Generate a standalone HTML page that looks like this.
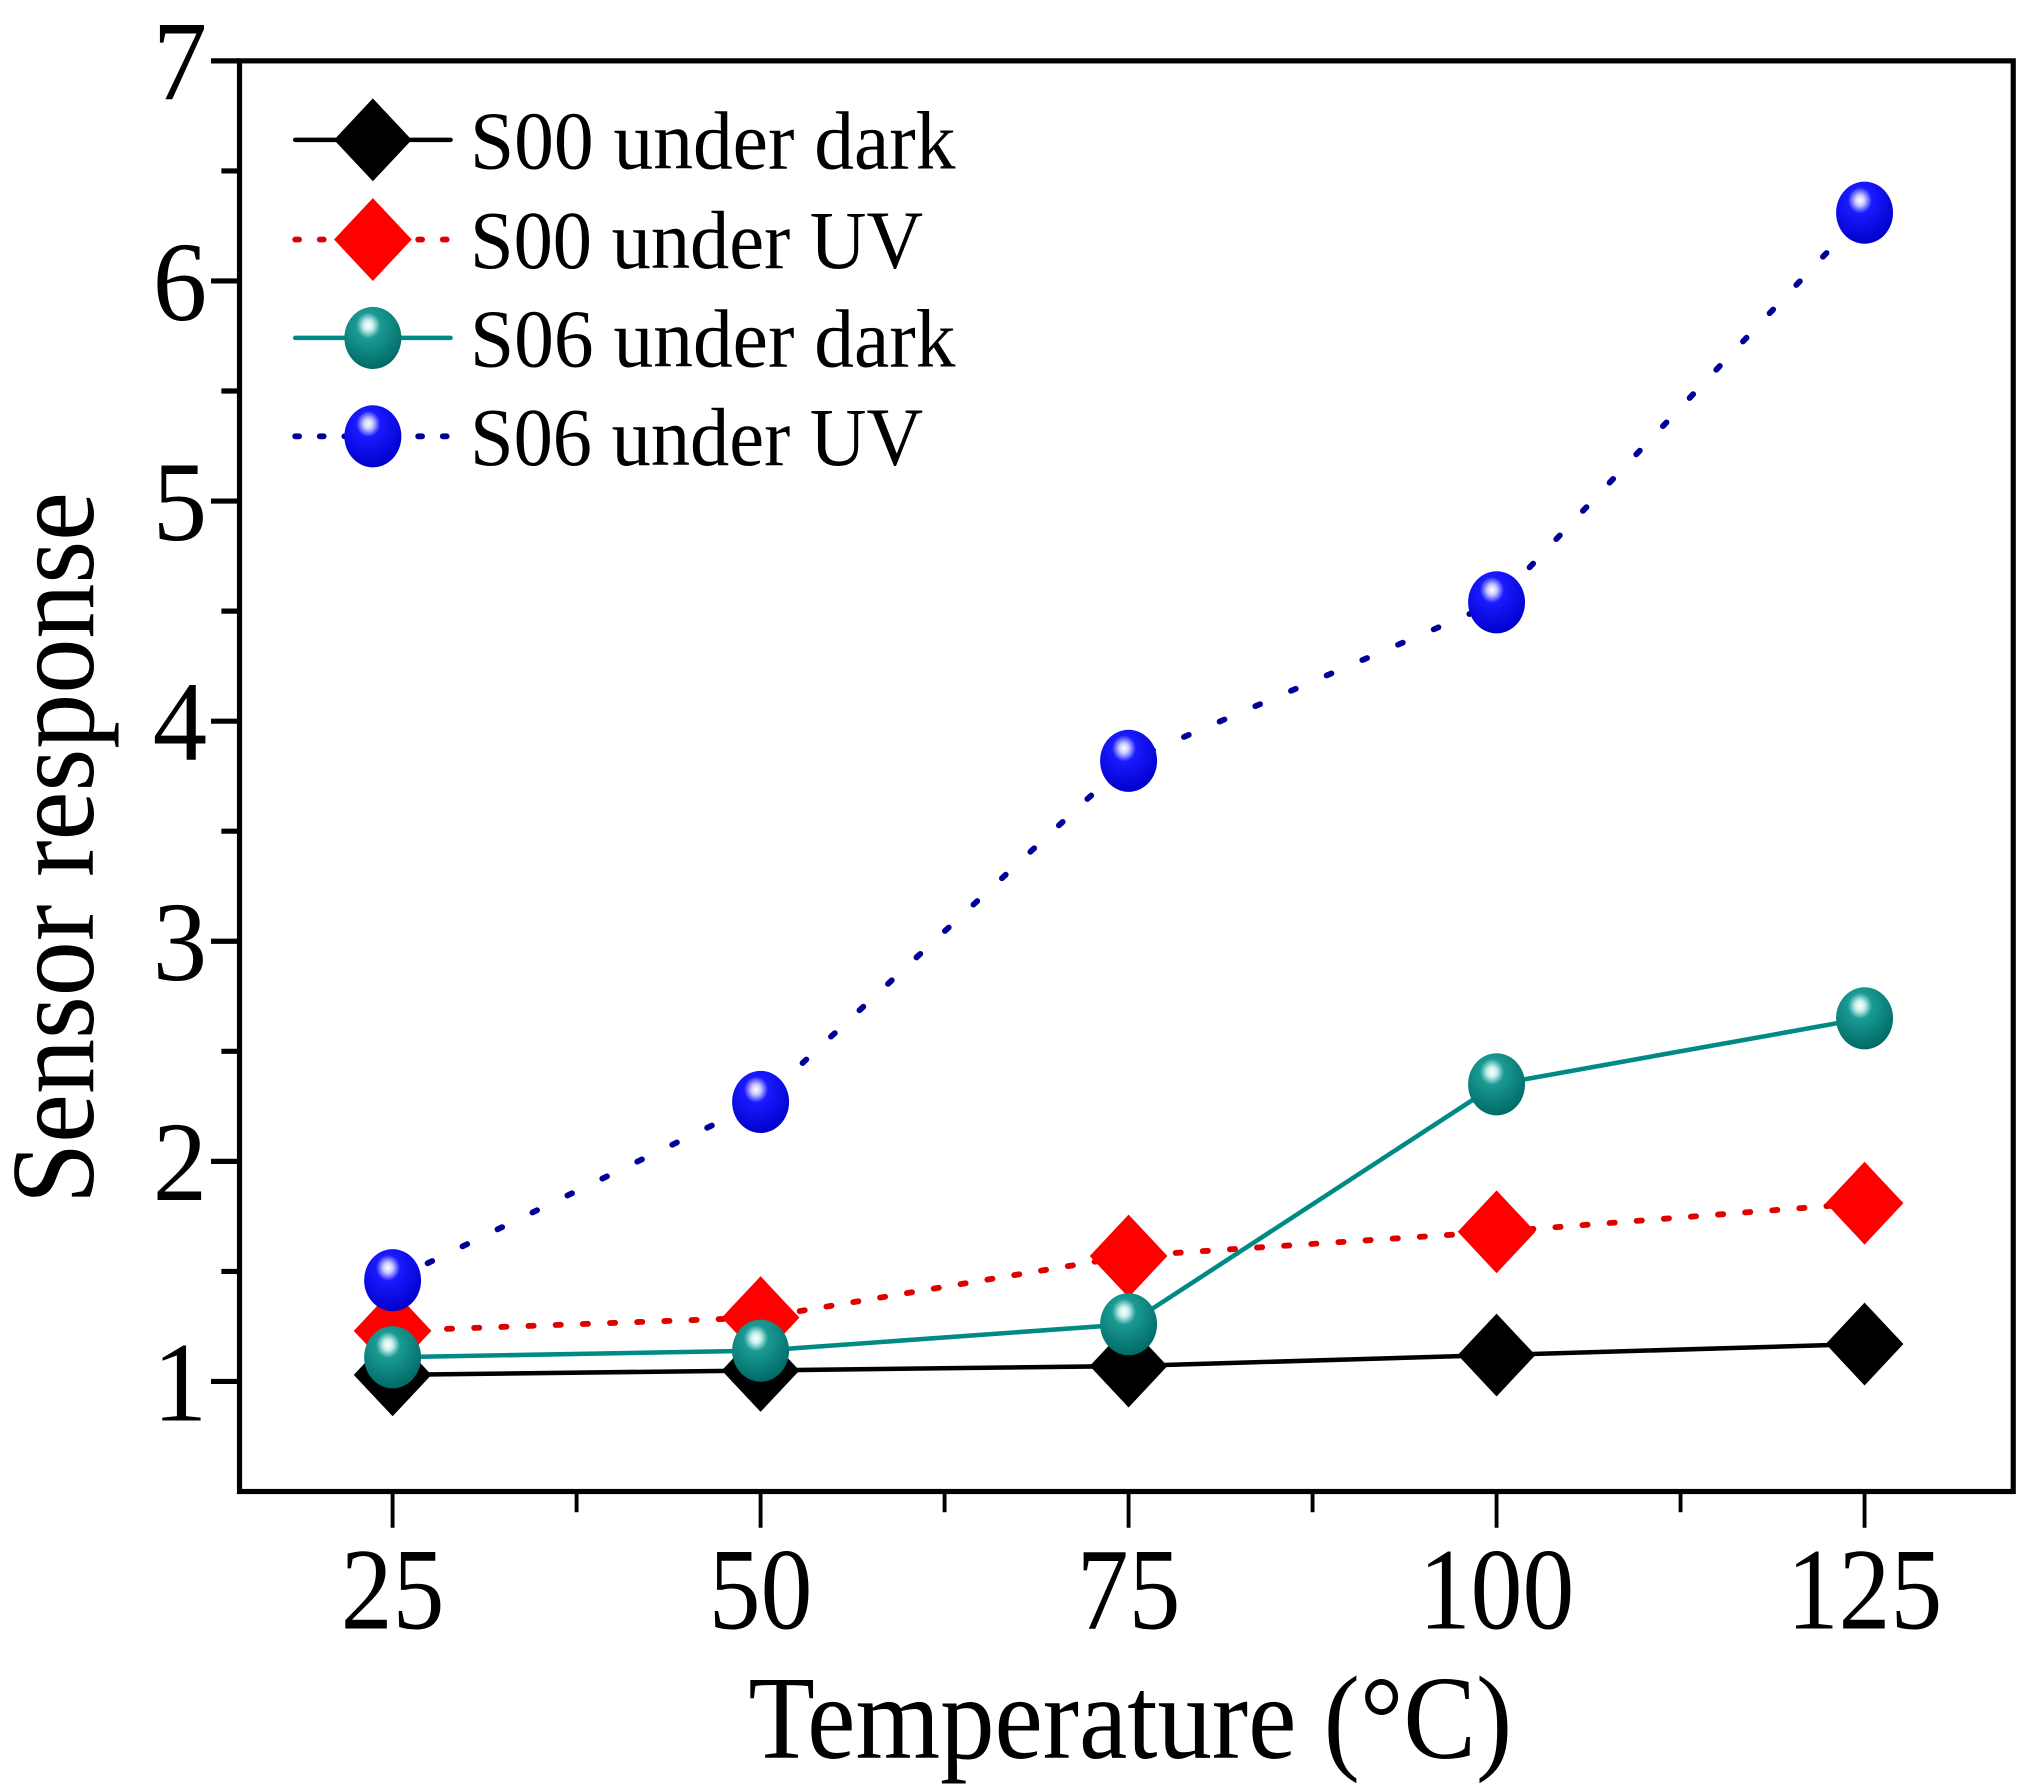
<!DOCTYPE html>
<html><head><meta charset="utf-8"><style>
html,body{margin:0;padding:0;background:#fff}
svg{display:block}
text{font-family:"Liberation Serif",serif;fill:#000}
</style></head><body>
<svg id="chart" width="2021" height="1788" viewBox="0 0 1561 1381" preserveAspectRatio="none" xmlns="http://www.w3.org/2000/svg">
<defs>
<radialGradient id="gTeal" cx="0.42" cy="0.3" r="0.7">
<stop offset="0" stop-color="#ffffff"/><stop offset="0.12" stop-color="#c8f0ee"/><stop offset="0.3" stop-color="#1b9a94"/><stop offset="1" stop-color="#006a66"/>
</radialGradient>
<radialGradient id="gBlue" cx="0.42" cy="0.3" r="0.7">
<stop offset="0" stop-color="#ffffff"/><stop offset="0.12" stop-color="#c8c8ff"/><stop offset="0.3" stop-color="#1a1aff"/><stop offset="1" stop-color="#0000cc"/>
</radialGradient>
</defs>
<g id="axes"></g>
<g id="series"></g>
<g id="legend"></g>
</svg>
<script>
const categories = [25, 50, 75, 100, 125];
const s00Dark = [1.03, 1.05, 1.07, 1.12, 1.17];
const s00UV = [1.23, 1.29, 1.57, 1.68, 1.81];
const s06Dark = [1.11, 1.14, 1.26, 2.35, 2.65];
const s06UV = [1.46, 2.27, 3.82, 4.54, 6.31];
const yTicks = [1, 2, 3, 4, 5, 6, 7];
const xTicks = [25, 50, 75, 100, 125];
const seriesNames = ["S00 under dark", "S00 under UV", "S06 under dark", "S06 under UV"];

const NS = "http://www.w3.org/2000/svg";
const L = 185, R = 1555, T = 47, B = 1152;
const xMin = 14.6, xMax = 135.1, yMin = 0.5, yMax = 7;
function xs(v){ return L + (v - xMin) / (xMax - xMin) * (R - L); }
function ys(v){ return B - (v - yMin) / (yMax - yMin) * (B - T); }
function mk(tag, attrs, parent){ const e = document.createElementNS(NS, tag); for (const k in attrs) e.setAttribute(k, attrs[k]); parent.appendChild(e); return e; }

const axes = document.getElementById('axes');
const frame = mk('rect', {x:L, y:T, width:R-L, height:B-T, fill:'none', stroke:'#000', 'stroke-width':4}, axes);



for (let v = 1; v <= 7; v += 0.5) {
  const major = Number.isInteger(v);
  const t = mk('line', {x1:L, x2:L-(major?22:14), y1:ys(v), y2:ys(v), stroke:'#000', 'stroke-width':4}, axes);
  
  
}
yTicks.forEach(v => {
  const t = mk('text', {x:160, y:ys(v)+30, 'text-anchor':'end', 'font-size':88, textLength:42, lengthAdjust:'spacingAndGlyphs'}, axes);
  t.textContent = v;
  
  
});
for (let v = 25; v <= 125; v += 12.5) {
  const major = (v % 25) === 0;
  const t = mk('line', {x1:xs(v), x2:xs(v), y1:B, y2:B+(major?28:16), stroke:'#000', 'stroke-width':3}, axes);
  
  
}
xTicks.forEach(v => {
  const s = String(v);
  const t = mk('text', {x:xs(v), y:1258, 'text-anchor':'middle', 'font-size':90, textLength: s.length*40, lengthAdjust:'spacingAndGlyphs'}, axes);
  t.textContent = s;
  
  
});
const xt = mk('text', {x:873, y:1358, 'text-anchor':'middle', 'font-size':92, textLength:590, lengthAdjust:'spacingAndGlyphs'}, axes);
xt.textContent = 'Temperature (°C)';


const yt = mk('text', {x:0, y:0, 'text-anchor':'middle', 'font-size':92, textLength:550, lengthAdjust:'spacingAndGlyphs', transform:'translate(72,655) rotate(-90)'}, axes);
yt.textContent = 'Sensor response';



const defs = [
  {data:s00Dark, color:'#000', dash:null, marker:'diamond', fill:'#000', name:'series-s00-dark'},
  {data:s00UV, color:'#e00000', dash:'4 17', marker:'diamond', fill:'#ff0000', name:'series-s00-uv'},
  {data:s06Dark, color:'#008a85', dash:null, marker:'sphere', fill:'url(#gTeal)', name:'series-s06-dark'},
  {data:s06UV, color:'#000099', dash:'4 26', marker:'sphere', fill:'url(#gBlue)', name:'series-s06-uv'}
];
function drawMarker(type, cx, cy, fill, parent){
  let m;
  if (type === 'diamond') {
    m = mk('polygon', {points:`${cx},${cy-32} ${cx+30},${cy} ${cx},${cy+32} ${cx-30},${cy}`, fill:fill}, parent);
  } else {
    m = mk('ellipse', {cx:cx, cy:cy, rx:22, ry:24, fill:fill}, parent);
  }
  return m;
}
const sg = document.getElementById('series');
const lineLayer = mk('g', {}, sg);
const markLayer = mk('g', {}, sg);
defs.forEach(d => {
  const pts = d.data.map((v,i) => xs(categories[i]) + ',' + ys(v)).join(' ');
  const pl = mk('polyline', {points:pts, fill:'none', stroke:d.color, 'stroke-width':d.dash?4.5:3.5, 'stroke-linecap':'round'}, lineLayer);
  if (d.dash) pl.setAttribute('stroke-dasharray', d.dash);
  
  
});
defs.forEach(d => {
  d.data.forEach((v,i) => {
    const m = drawMarker(d.marker, xs(categories[i]), ys(v), d.fill, markLayer);
    
    
  });
});

const lg = document.getElementById('legend');
const rowsY = [108, 185, 261, 337];
defs.forEach((d, i) => {
  const g = mk('g', {}, lg);
  
  
  const ln = mk('line', {x1:228, x2:348, y1:rowsY[i], y2:rowsY[i], stroke:d.color, 'stroke-width':d.dash?4.5:3.5, 'stroke-linecap':'round'}, g);
  if (d.dash) ln.setAttribute('stroke-dasharray', '3 16');
  drawMarker(d.marker, 288, rowsY[i], d.fill, g);
  const t = mk('text', {x:363, y:rowsY[i]+22, 'font-size':64, textLength: i%2===0?375:350, lengthAdjust:'spacingAndGlyphs'}, g);
  t.textContent = seriesNames[i];
});
</script>
</body></html>
